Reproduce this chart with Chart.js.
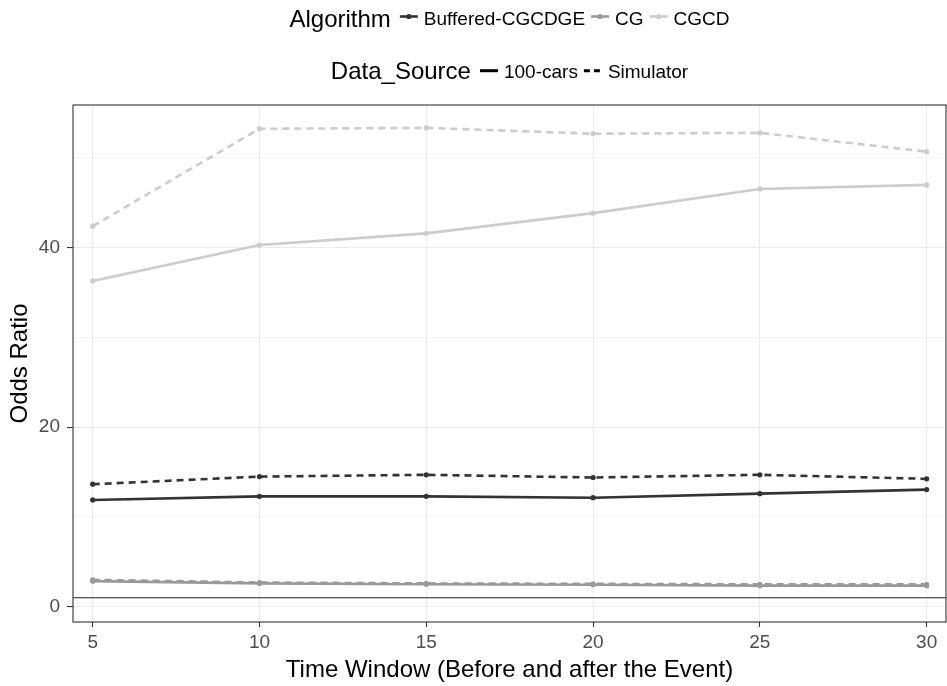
<!DOCTYPE html>
<html>
<head>
<meta charset="utf-8">
<script src="https://cdn.jsdelivr.net/npm/chart.js@4.4.1/dist/chart.umd.min.js"></script>
<style>
  html, body { margin: 0; padding: 0; background: #ffffff; }
  #wrap { position: relative; width: 947px; height: 686px; }
</style>
</head>
<body>
<div id="wrap"><canvas id="chart" width="947" height="686"></canvas></div>
<script>
// ---- data ----
const timeWindows = [5, 10, 15, 20, 25, 30];
const buffered100cars = [11.9, 12.3, 12.3, 12.15, 12.6, 13.05];
const bufferedSimulator = [13.65, 14.5, 14.7, 14.4, 14.7, 14.25];
const cg100cars = [2.85, 2.6, 2.5, 2.45, 2.35, 2.35];
const cgSimulator = [3.0, 2.7, 2.6, 2.55, 2.5, 2.5];
const cgcd100cars = [36.3, 40.3, 41.6, 43.85, 46.55, 47.0];
const cgcdSimulator = [42.4, 53.25, 53.35, 52.7, 52.8, 50.7];
const referenceLine = 1;
const yTickValues = [0, 10, 20, 30, 40, 50];
const yLabelValues = [0, 20, 40];

const algorithms = ['Buffered-CGCDGE', 'CG', 'CGCD'];
const dataSources = ['100-cars', 'Simulator'];
const algoColors = ['#333333', '#999999', '#CCCCCC'];

const FONT = "'Liberation Sans', Arial, sans-serif";
const PANEL_RIGHT = 946;

function series(label, values, color, dashed) {
  return {
    label: label,
    data: timeWindows.map((x, i) => ({ x: x, y: values[i] })),
    borderColor: color,
    backgroundColor: color,
    pointBackgroundColor: color,
    pointBorderColor: color,
    pointBorderWidth: 0,
    pointRadius: 2.6,
    borderWidth: 2.6,
    borderDash: dashed ? [7, 5] : [],
    tension: 0,
    fill: false
  };
}

const datasets = [
  series('Buffered-CGCDGE 100-cars', buffered100cars, algoColors[0], false),
  series('Buffered-CGCDGE Simulator', bufferedSimulator, algoColors[0], true),
  series('CG 100-cars', cg100cars, algoColors[1], false),
  series('CG Simulator', cgSimulator, algoColors[1], true),
  series('CGCD 100-cars', cgcd100cars, algoColors[2], false),
  series('CGCD Simulator', cgcdSimulator, algoColors[2], true)
];

const panelPlugin = {
  id: 'panelExtras',
  afterLayout(chart) {
    // stretch the panel to the right edge as in the reference
    const area = chart.chartArea;
    area.right = PANEL_RIGHT;
    area.width = PANEL_RIGHT - area.left;
    const xs = chart.scales.x;
    xs.right = PANEL_RIGHT;
    xs.width = PANEL_RIGHT - xs.left;
    xs.configure();
  },
  beforeDatasetsDraw(chart) {
    const { ctx, chartArea, scales } = chart;
    const y = scales.y.getPixelForValue(referenceLine);
    ctx.save();
    ctx.strokeStyle = '#222222';
    ctx.lineWidth = 1.1;
    ctx.beginPath();
    ctx.moveTo(chartArea.left, y);
    ctx.lineTo(chartArea.right, y);
    ctx.stroke();
    ctx.restore();
  },
  afterDatasetsDraw(chart) {
    const { ctx, chartArea } = chart;
    ctx.save();
    ctx.strokeStyle = '#333333';
    ctx.lineWidth = 1.1;
    ctx.strokeRect(chartArea.left, chartArea.top, chartArea.right - chartArea.left, chartArea.bottom - chartArea.top);
    ctx.restore();
  },
  afterDraw(chart) {
    const { ctx, chartArea } = chart;
    const center = (chartArea.left + chartArea.right) / 2;
    const keyW = 20, gapTitle = 8, gapKey = 5, gapItem = 5;
    ctx.save();
    ctx.fillStyle = '#000000';
    ctx.textBaseline = 'alphabetic';
    ctx.textAlign = 'left';

    function drawRow(title, labels, titleBase, labelBase, keyY, drawKey) {
      ctx.font = '24px ' + FONT;
      const tw = ctx.measureText(title).width;
      ctx.font = '19px ' + FONT;
      const lws = labels.map(l => ctx.measureText(l).width);
      let total = tw + gapTitle;
      lws.forEach((w, i) => { total += keyW + gapKey + w + (i < lws.length - 1 ? gapItem : 0); });
      let x = center - total / 2;
      ctx.font = '24px ' + FONT;
      ctx.fillStyle = '#000000';
      ctx.fillText(title, x, titleBase);
      x += tw + gapTitle;
      labels.forEach((l, i) => {
        drawKey(i, x, keyY);
        x += keyW + gapKey;
        ctx.font = '19px ' + FONT;
        ctx.fillStyle = '#000000';
        ctx.fillText(l, x, labelBase);
        x += lws[i] + gapItem;
      });
    }

    drawRow('Algorithm', algorithms, 26.9, 24.8, 16.5, (i, x, y) => {
      ctx.strokeStyle = algoColors[i];
      ctx.fillStyle = algoColors[i];
      ctx.lineWidth = 2.6;
      ctx.setLineDash([]);
      ctx.beginPath();
      ctx.moveTo(x + 1, y);
      ctx.lineTo(x + keyW - 1, y);
      ctx.stroke();
      ctx.beginPath();
      ctx.arc(x + keyW / 2, y, 2.6, 0, Math.PI * 2);
      ctx.fill();
    });

    drawRow('Data_Source', dataSources, 79.3, 78.3, 70.7, (i, x, y) => {
      ctx.strokeStyle = '#000000';
      ctx.lineWidth = 3;
      ctx.setLineDash(i === 1 ? [6, 4] : []);
      ctx.beginPath();
      ctx.moveTo(x + 1, y);
      ctx.lineTo(x + keyW - 1, y);
      ctx.stroke();
      ctx.setLineDash([]);
    });
    ctx.restore();
  }
};

new Chart(document.getElementById('chart'), {
  type: 'line',
  data: { datasets: datasets },
  options: {
    responsive: false,
    animation: false,
    devicePixelRatio: 1,
    layout: { padding: { top: 105, right: 1, left: 0, bottom: 0 } },
    plugins: { legend: { display: false }, tooltip: { enabled: false } },
    scales: {
      x: {
        type: 'linear',
        min: 4.41,
        max: 30.58,
        afterBuildTicks(scale) { scale.ticks = timeWindows.map(v => ({ value: v })); },
        afterFit(scale) { scale.height = 64; scale.paddingLeft = 0; scale.paddingRight = 0; },
        border: { display: false },
        grid: {
          color: '#EBEBEB',
          lineWidth: 1,
          tickColor: '#333333',
          tickLength: 5,
          tickWidth: 1.1
        },
        ticks: {
          color: '#4D4D4D',
          font: { family: FONT, size: 19 },
          padding: 4,
          maxRotation: 0,
          autoSkip: false
        },
        title: {
          display: true,
          text: 'Time Window (Before and after the Event)',
          color: '#000000',
          font: { family: FONT, size: 24 },
          padding: { top: 0, bottom: 1.6 }
        }
      },
      y: {
        type: 'linear',
        min: -1.7,
        max: 55.9,
        afterBuildTicks(scale) { scale.ticks = yTickValues.map(v => ({ value: v })); },
        afterFit(scale) { scale.width = 73; scale.paddingTop = 0; scale.paddingBottom = 0; },
        border: { display: false },
        grid: {
          color: '#EBEBEB',
          lineWidth: (c) => (c.tick && yLabelValues.includes(c.tick.value)) ? 1.1 : 0.6,
          tickColor: (c) => (c.tick && yLabelValues.includes(c.tick.value)) ? '#333333' : 'rgba(0,0,0,0)',
          tickLength: 6,
          tickWidth: 1.1
        },
        ticks: {
          color: '#4D4D4D',
          font: { family: FONT, size: 19 },
          padding: 7,
          autoSkip: false,
          callback: (v) => yLabelValues.includes(v) ? String(v) : ''
        },
        title: {
          display: true,
          text: 'Odds Ratio',
          color: '#000000',
          font: { family: FONT, size: 24 },
          padding: { top: 5.6, bottom: 0 }
        }
      }
    }
  },
  plugins: [panelPlugin]
});
</script>
</body>
</html>
